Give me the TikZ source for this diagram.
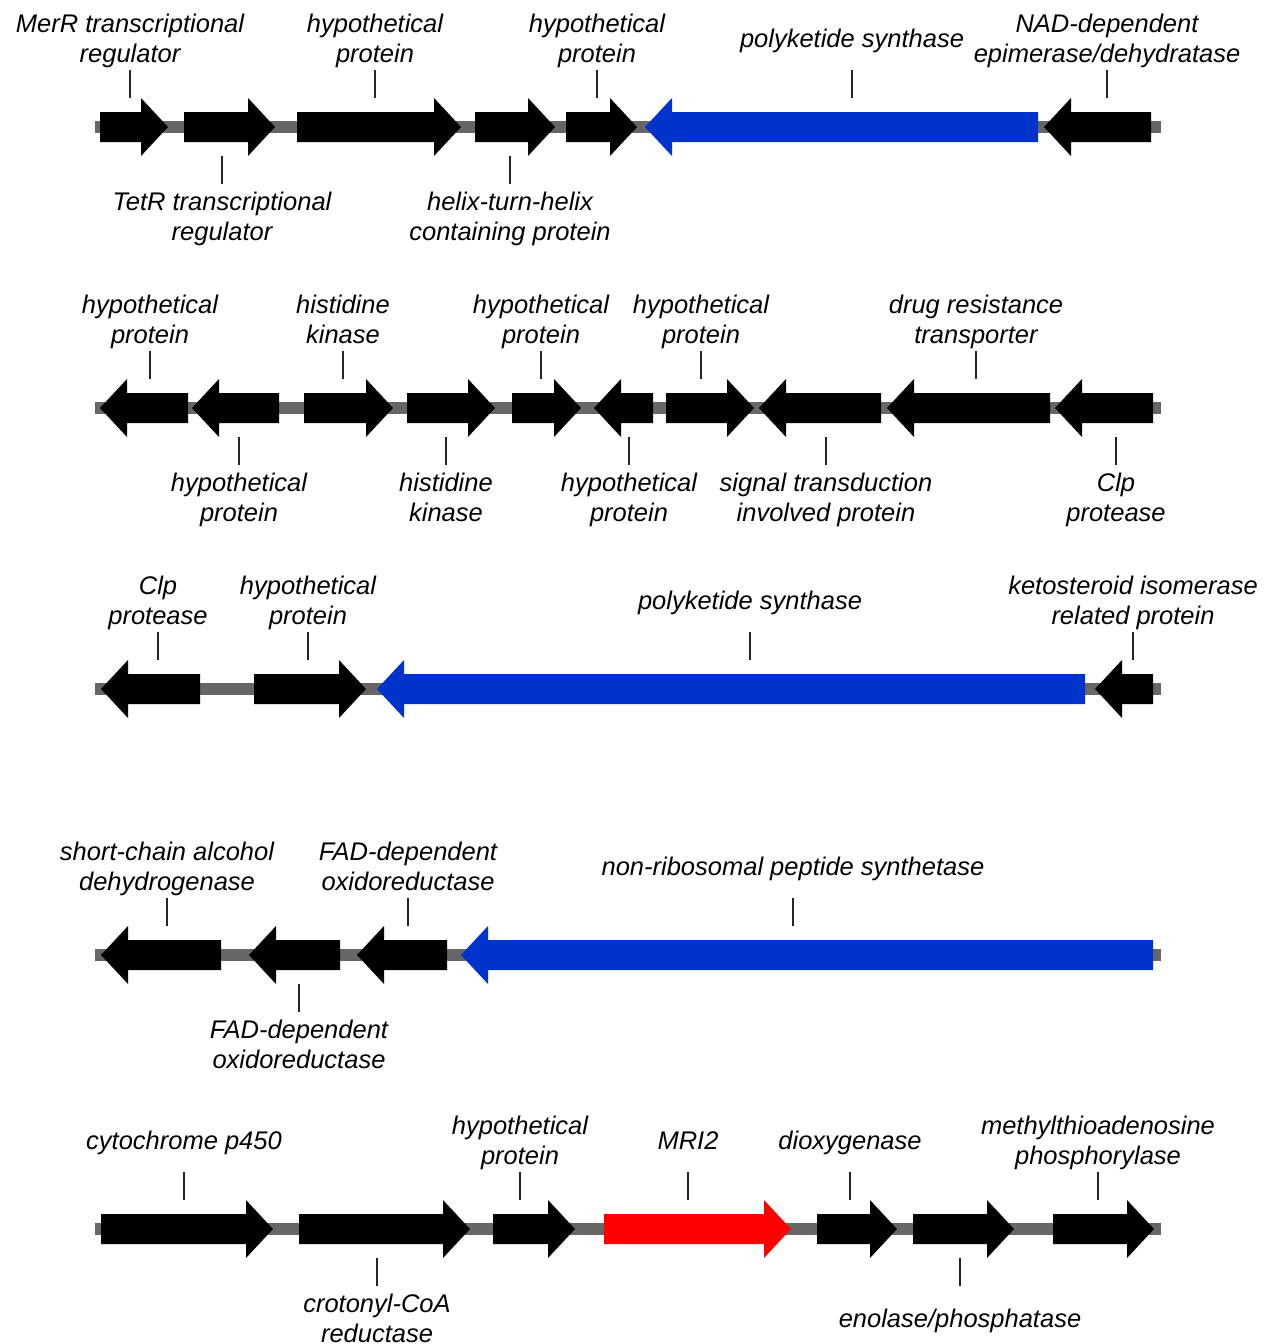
\documentclass[tikz,border=0pt]{standalone}
\usepackage{fontspec}
\setmainfont{Liberation Sans}
\definecolor{pksblue}{HTML}{0033CC}
\definecolor{mrired}{HTML}{FF0000}
\definecolor{spine}{HTML}{666666}

% gene arrow: start x, tip x, row y, colour
\newcommand{\gene}[4]{%
  \pgfmathsetmacro{\hb}{#2-27*sign(#2-#1)}%
  \fill[#4] (#1,#3-15) -- (\hb,#3-15) -- (\hb,#3-29) -- (#2,#3)
    -- (\hb,#3+29) -- (\hb,#3+15) -- (#1,#3+15) -- cycle;}

% labels with their ticks: name, x, row y, text
\newcommand{\toplabel}[4]{%
  \node[lbl] (#1) at (#2,#3-85.4) {\strut#4\strut};
  \coordinate (#1-tick) at (#2,#3-29);
  \draw[tick, shorten >=28.4pt] (#1-tick) -- (#1.center);}
\newcommand{\botlabel}[4]{%
  \node[lbl] (#1) at (#2,#3+92.6) {\strut#4\strut};
  \coordinate (#1-tick) at (#2,#3+29);
  \draw[tick, shorten >=35.6pt] (#1-tick) -- (#1.center);}

\begin{document}
\begin{tikzpicture}[x=1pt, y=-1pt,
    backbone/.style={draw=spine, line width=12pt},
    lbl/.style={align=center, font=\fontsize{25.5}{30}\selectfont\itshape, inner sep=0pt},
    tick/.style={draw=black!85, line width=2pt},
]
\fill[white] (0,0) rectangle (1270,1344);
\useasboundingbox (0,0) rectangle (1270,1344);

% row 1
\draw[backbone] (95,127) -- (1161,127);
\foreach \a/\b in {100/168, 184/275, 297/461, 475/555, 566/637, 1151/1044}
  \gene{\a}{\b}{127}{black};
\gene{1038}{645}{127}{pksblue}
\toplabel{merr}{130}{127}{MerR transcriptional\\regulator}
\toplabel{hypa}{375}{127}{hypothetical\\protein}
\toplabel{hypb}{597}{127}{hypothetical\\protein}
\toplabel{pksa}{852}{127}{polyketide synthase}
\toplabel{nad}{1107}{127}{NAD-dependent\\epimerase/dehydratase}
\botlabel{tetr}{222}{127}{TetR transcriptional\\regulator}
\botlabel{hth}{510}{127}{helix-turn-helix\\containing protein}

% row 2
\draw[backbone] (95,408) -- (1161,408);
\foreach \a/\b in {188/100, 279/192, 304/393, 407/495, 512/581, 653/594,
                   666/754, 881/759, 1050/887, 1153/1055}
  \gene{\a}{\b}{408}{black};
\toplabel{hypc}{150}{408}{hypothetical\\protein}
\toplabel{hisa}{343}{408}{histidine\\kinase}
\toplabel{hypd}{541}{408}{hypothetical\\protein}
\toplabel{hype}{701}{408}{hypothetical\\protein}
\toplabel{drug}{976}{408}{drug resistance\\transporter}
\botlabel{hypf}{239}{408}{hypothetical\\protein}
\botlabel{hisb}{446}{408}{histidine\\kinase}
\botlabel{hypg}{629}{408}{hypothetical\\protein}
\botlabel{sig}{826}{408}{signal transduction\\involved protein}
\botlabel{clpa}{1116}{408}{Clp\\protease}

% row 3
\draw[backbone] (95,689) -- (1161,689);
\foreach \a/\b in {200/101, 254/366, 1153/1095}
  \gene{\a}{\b}{689}{black};
\gene{1085}{377}{689}{pksblue}
\toplabel{clpb}{158}{689}{Clp\\protease}
\toplabel{hyph}{308}{689}{hypothetical\\protein}
\toplabel{pksb}{750}{689}{polyketide synthase}
\toplabel{keto}{1133}{689}{ketosteroid isomerase\\related protein}

% row 4
\draw[backbone] (95,955) -- (1161,955);
\foreach \a/\b in {221/101, 340/249, 447/357}
  \gene{\a}{\b}{955}{black};
\gene{1153}{461}{955}{pksblue}
\toplabel{sca}{167}{955}{short-chain alcohol\\dehydrogenase}
\toplabel{fada}{408}{955}{FAD-dependent\\oxidoreductase}
\toplabel{nrps}{793}{955}{non-ribosomal peptide synthetase}
\botlabel{fadb}{299}{955}{FAD-dependent\\oxidoreductase}

% row 5
\draw[backbone] (95,1229) -- (1161,1229);
\foreach \a/\b in {101/273, 299/470, 493/575, 817/897, 913/1014, 1053/1154}
  \gene{\a}{\b}{1229}{black};
\gene{604}{791}{1229}{mrired}
\toplabel{cyp}{184}{1229}{cytochrome p450}
\toplabel{hypi}{520}{1229}{hypothetical\\protein}
\toplabel{mri}{688}{1229}{MRI2}
\toplabel{diox}{850}{1229}{dioxygenase}
\toplabel{mta}{1098}{1229}{methylthioadenosine\\phosphorylase}
\botlabel{crot}{377}{1229}{crotonyl-CoA\\reductase}
\botlabel{enol}{960}{1229}{enolase/phosphatase}
\end{tikzpicture}
\end{document}
